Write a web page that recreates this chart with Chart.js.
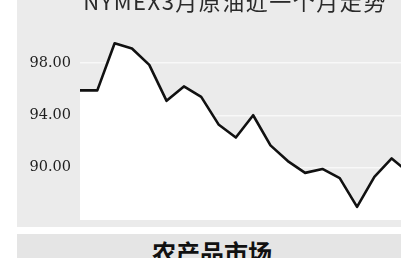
<!DOCTYPE html>
<html>
<head>
<meta charset="utf-8">
<script src="https://cdn.jsdelivr.net/npm/chart.js@4/dist/chart.umd.min.js"></script>
<style>
  html, body { margin: 0; padding: 0; background: #ffffff; width: 401px; height: 258px; overflow: hidden; position: relative; }
  #panel { position: absolute; left: 17px; top: 0; width: 400px; height: 227px; background: #ebebeb; overflow: hidden; }
  #wrap { position: absolute; left: 0; top: 0; width: 392px; height: 227px; }
  #title { position: absolute; left: 0; width: 470px; top: -11px; text-align: center; font: 22px/22px "Noto Sans CJK SC", sans-serif; color: #2a2a2a; letter-spacing: 1.5px; white-space: nowrap; }
  #band { position: absolute; left: 17px; top: 234px; width: 400px; height: 30px; background: #e5e5e5; }
  #band div { position: absolute; left: 0; width: 390px; top: 6px; text-align: center; font: bold 24px/24px "Noto Sans CJK SC", sans-serif; color: #111; white-space: nowrap; }
</style>
</head>
<body>
<div id="panel">
  <div id="wrap"><canvas id="c"></canvas></div>
</div>
<div id="title">NYMEX3月原油近一个月走势</div>
<div id="band"><div>农产品市场</div></div>
<script>
const categories = ["1","2","3","4","5","6","7","8","9","10","11","12","13","14","15","16","17","18","19","20"];
const prices = [95.9, 95.9, 99.5, 99.1, 97.85, 95.1, 96.2, 95.4, 93.3, 92.3, 94.0, 91.7, 90.5, 89.6, 89.9, 89.2, 87.0, 89.3, 90.7, 89.6];
const tickLabels = [90, 94, 98];
const gridValues = [90, 92, 94, 96, 98];

new Chart(document.getElementById('c'), {
  type: 'line',
  data: {
    labels: categories,
    datasets: [{
      data: prices,
      borderColor: '#111111',
      borderWidth: 2.6,
      backgroundColor: '#ffffff',
      fill: 'start',
      pointRadius: 0,
      pointHoverRadius: 0,
      pointHitRadius: 0,
      tension: 0,
      borderJoinStyle: 'round'
    }]
  },
  options: {
    responsive: true,
    maintainAspectRatio: false,
    animation: false,
    devicePixelRatio: 1,
    layout: { autoPadding: false, padding: { top: 10.5, bottom: 7, left: 0, right: 0 } },
    plugins: { legend: { display: false }, tooltip: { enabled: false }, title: { display: false } },
    scales: {
      x: { display: false, offset: false },
      y: {
        min: 86, max: 102,
        border: { display: false },
        afterFit: (s) => { s.width = 63; s.paddingTop = 0; s.paddingBottom = 0; },
        grid: {
          drawTicks: false,
          lineWidth: 1.5,
          color: (ctx) => gridValues.includes(ctx.tick && ctx.tick.value) ? '#f8f8f8' : 'rgba(0,0,0,0)'
        },
        ticks: {
          stepSize: 2,
          padding: 9,
          color: '#1e1e1e',
          font: { family: '"DejaVu Serif", serif', size: 14.5 },
          callback: (v) => tickLabels.includes(v) ? v.toFixed(2) : null
        }
      }
    }
  }
});
</script>
</body>
</html>
